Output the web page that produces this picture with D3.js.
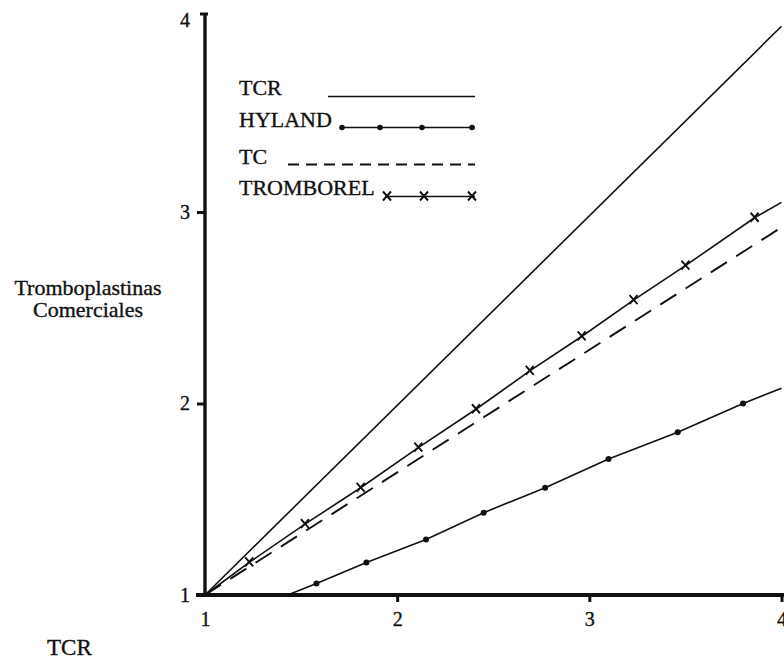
<!DOCTYPE html>
<html>
<head>
<meta charset="utf-8">
<script src="https://cdn.jsdelivr.net/npm/d3@7"></script>
<style>
  body { margin: 0; background: #fff; }
  svg { display: block; }
  text { font-family: "Liberation Serif", "Times New Roman", serif; fill: #111; stroke: #111; stroke-width: 0.35px; }
</style>
</head>
<body>
<div id="chart"></div>
<script>
// values
const xTicks = [1, 2, 3, 4];
const yTicks = [1, 2, 3, 4];

const tcrX = [1, 4];
const tcrY = [1, 3.97];

const tcX = [1, 4];
const tcY = [1, 2.92];

// line start, measured points, line end
const hylandX = [1.43, 1.58, 1.84, 2.15, 2.45, 2.77, 3.10, 3.46, 3.80, 4.0];
const hylandY = [1.00, 1.06, 1.17, 1.29, 1.43, 1.56, 1.71, 1.85, 2.00, 2.08];
const hylandMarked = [false, true, true, true, true, true, true, true, true, false];

const tromX = [1, 1.23, 1.52, 1.81, 2.11, 2.41, 2.69, 2.96, 3.23, 3.50, 3.86, 4.0];
const tromY = [1, 1.17, 1.37, 1.56, 1.77, 1.97, 2.17, 2.35, 2.54, 2.72, 2.97, 3.05];
const tromMarked = [false, true, true, true, true, true, true, true, true, true, true, false];

const legendNames = ["TCR", "HYLAND", "TC", "TROMBOREL"];

const W = 784, H = 661;
const svg = d3.select("#chart").append("svg").attr("width", W).attr("height", H);

const x = d3.scaleLinear().domain([1, 4]).range([205, 781.5]);
const y = d3.scaleLinear().domain([1, 4]).range([595, 20.5]);

const pts = (xs, ys) => xs.map((v, i) => ({ x: v, y: ys[i] }));
const line = d3.line().x(d => x(d.x)).y(d => y(d.y));

// axes
const xAxis = d3.axisBottom(x).tickValues(xTicks).tickSize(7).tickPadding(10).tickFormat(d3.format("d"));
const yAxis = d3.axisLeft(y).tickValues(yTicks).tickSize(8).tickPadding(7).tickFormat(d3.format("d"));

const gx = svg.append("g").attr("transform", `translate(0,${y(1)})`).call(xAxis);
const gy = svg.append("g").attr("transform", `translate(${x(1)},0)`).call(yAxis);

[gx, gy].forEach(g => {
  g.select(".domain").remove();
  g.selectAll(".tick line").attr("stroke", "#111").attr("stroke-width", 3);
  g.selectAll(".tick text").style("font-size", "20px").attr("fill", "#111");
});
gx.selectAll(".tick").filter(d => d === 1).select("line").remove();
gy.selectAll(".tick").filter(d => d === 4).select("line").remove();

// heavy axis lines
svg.append("line").attr("x1", x(1) - 9).attr("x2", W).attr("y1", y(1)).attr("y2", y(1))
  .attr("stroke", "#111").attr("stroke-width", 4);
svg.append("line").attr("x1", x(1)).attr("x2", x(1)).attr("y1", y(1)).attr("y2", 13)
  .attr("stroke", "#111").attr("stroke-width", 3.4);
svg.append("line").attr("x1", x(1) - 5).attr("x2", x(1) + 3).attr("y1", 14).attr("y2", 14)
  .attr("stroke", "#111").attr("stroke-width", 3);

// series
const plot = svg.append("g").attr("fill", "none").attr("stroke", "#111").attr("stroke-width", 1.6);
plot.append("path").attr("d", line(pts(tcrX, tcrY)));
plot.append("path").attr("d", line(pts(tcX, tcY))).attr("stroke-dasharray", "19,11").attr("stroke-width", 1.9);
plot.append("path").attr("d", line(pts(hylandX, hylandY)));
plot.append("path").attr("d", line(pts(tromX, tromY)));

svg.append("g").selectAll("circle")
  .data(pts(hylandX, hylandY).filter((d, i) => hylandMarked[i]))
  .join("circle")
  .attr("cx", d => x(d.x)).attr("cy", d => y(d.y)).attr("r", 3).attr("fill", "#111");

const cross = "M-4,-5L4,4M4,-5L-4,4";
svg.append("g").selectAll("path")
  .data(pts(tromX, tromY).filter((d, i) => tromMarked[i]))
  .join("path")
  .attr("transform", d => `translate(${x(d.x)},${y(d.y)})`)
  .attr("d", cross).attr("fill", "none").attr("stroke", "#111").attr("stroke-width", 1.9);

// legend
const leg = svg.append("g");
const legBase = [95, 127, 164, 195];
leg.selectAll("text").data(legendNames).join("text")
  .attr("x", 239).attr("y", (d, i) => legBase[i]).style("font-size", "22px").text(d => d);

leg.append("line").attr("x1", 328).attr("x2", 475).attr("y1", 96.5).attr("y2", 96.5)
  .attr("stroke", "#111").attr("stroke-width", 1.6);
leg.append("line").attr("x1", 342).attr("x2", 475).attr("y1", 127.5).attr("y2", 127.5)
  .attr("stroke", "#111").attr("stroke-width", 1.6);
[342, 380, 422, 472].forEach(cx => leg.append("circle").attr("cx", cx).attr("cy", 127.5).attr("r", 2.8).attr("fill", "#111"));
leg.append("line").attr("x1", 288).attr("x2", 475).attr("y1", 164.5).attr("y2", 164.5)
  .attr("stroke", "#111").attr("stroke-width", 1.8).attr("stroke-dasharray", "11,7");
leg.append("line").attr("x1", 385).attr("x2", 475).attr("y1", 196.5).attr("y2", 196.5)
  .attr("stroke", "#111").attr("stroke-width", 1.6);
[387, 424, 472].forEach(cx => leg.append("path").attr("transform", `translate(${cx},196.5)`)
  .attr("d", cross).attr("fill", "none").attr("stroke", "#111").attr("stroke-width", 1.9));

// axis titles
svg.append("text").attr("x", 88).attr("y", 295).attr("text-anchor", "middle").style("font-size", "22px").text("Tromboplastinas");
svg.append("text").attr("x", 88).attr("y", 317).attr("text-anchor", "middle").style("font-size", "22px").text("Comerciales");
svg.append("text").attr("x", 47).attr("y", 655).style("font-size", "23px").text("TCR");
</script>
</body>
</html>
